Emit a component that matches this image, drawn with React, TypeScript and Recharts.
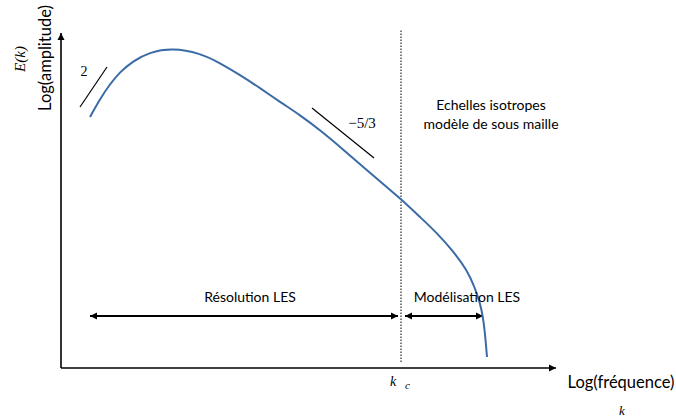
import React from "react";
import { LineChart, Line, XAxis, YAxis, ReferenceLine } from "recharts";

// Schematic energy spectrum E(k): log-frequency vs log-amplitude (arbitrary units)
const logFrequency = [29, 39, 49, 59, 72, 89, 111, 139, 159, 179, 199, 219, 239, 259, 284, 309, 339, 359, 376, 392, 406, 414, 419, 422, 424, 426];
const logAmplitude = [251, 269, 284, 296, 307, 316, 320, 315, 305, 293, 280, 266, 253, 238, 217, 195, 170, 151, 135, 117, 98, 80, 65, 51, 35, 11];

const xDomain = [0, 495];
const yDomain = [0, 335];

const cutoffK = 340; // k_c
const cutoffSpan = [6, 338];
const resolutionRange = [29, 337];
const modelRange = [344, 422];
const rangeLevel = 52;
const slope2Line = [{ x: 19, y: 261 }, { x: 46, y: 301 }];
const slope53Line = [{ x: 251, y: 260 }, { x: 313, y: 210 }];

const data = logFrequency.map((k, i) => ({ k, e: logAmplitude[i] }));

const SANS = "Lato, 'Liberation Sans', sans-serif";
const SERIF = "'Liberation Serif', 'DejaVu Serif', serif";

function head(x: number, y: number, fx: number, fy: number, key: string) {
  const dx = x - fx;
  const dy = y - fy;
  const len = Math.sqrt(dx * dx + dy * dy) || 1;
  const ux = dx / len;
  const uy = dy / len;
  const L = 7;
  const W = 3.5;
  const bx = x - ux * L;
  const by = y - uy * L;
  const pts = `${x},${y} ${bx - uy * W},${by + ux * W} ${bx + uy * W},${by - ux * W}`;
  return <polygon key={key} points={pts} fill="#000" />;
}

function makeArrow(startHead: boolean, endHead: boolean, width: number) {
  return (p: any) => {
    const { x1, y1, x2, y2 } = p;
    return (
      <g>
        <line x1={x1} y1={y1} x2={x2} y2={y2} stroke="#000" strokeWidth={width} />
        {startHead ? head(x1, y1, x2, y2, "s") : null}
        {endHead ? head(x2, y2, x1, y1, "e") : null}
      </g>
    );
  };
}

export default function App() {
  return (
    <div style={{ position: "absolute", left: 0, top: 0, width: 676, height: 419, background: "#fff" }}>
      <LineChart
        width={676}
        height={419}
        data={data}
        margin={{ top: 33, right: 120, bottom: 51, left: 61 }}
      >
        <XAxis dataKey="k" type="number" domain={xDomain} hide />
        <YAxis type="number" domain={yDomain} hide />
        <ReferenceLine
          segment={[{ x: xDomain[0], y: yDomain[0] }, { x: xDomain[0], y: yDomain[1] }]}
          shape={makeArrow(false, true, 1.6)}
          ifOverflow="visible"
        />
        <ReferenceLine
          segment={[{ x: xDomain[0], y: yDomain[0] }, { x: xDomain[1], y: yDomain[0] }]}
          shape={makeArrow(false, true, 1.6)}
          ifOverflow="visible"
        />
        <ReferenceLine
          segment={[{ x: cutoffK, y: cutoffSpan[0] }, { x: cutoffK, y: cutoffSpan[1] }]}
          stroke="#000"
          strokeWidth={1}
          strokeDasharray="1.5 1.5"
          ifOverflow="visible"
        />
        <ReferenceLine
          segment={[{ x: resolutionRange[0], y: rangeLevel }, { x: resolutionRange[1], y: rangeLevel }]}
          shape={makeArrow(true, true, 1.8)}
          ifOverflow="visible"
        />
        <ReferenceLine
          segment={[{ x: modelRange[0], y: rangeLevel }, { x: modelRange[1], y: rangeLevel }]}
          shape={makeArrow(true, true, 1.8)}
          ifOverflow="visible"
        />
        <ReferenceLine segment={slope2Line} stroke="#000" strokeWidth={1.2} ifOverflow="visible" />
        <ReferenceLine segment={slope53Line} stroke="#000" strokeWidth={1.2} ifOverflow="visible" />
        <Line
          type="basis"
          dataKey="e"
          stroke="#3b6ba5"
          strokeWidth={2}
          dot={false}
          isAnimationActive={false}
        />
      </LineChart>
      <svg
        width={676}
        height={419}
        style={{ position: "absolute", left: 0, top: 0, pointerEvents: "none" }}
      >
        <text x={84} y={76} fontFamily={SERIF} fontSize={14} textAnchor="middle" fill="#000">2</text>
        <text x={362} y={128} fontFamily={SERIF} fontSize={15} textAnchor="middle" fill="#000">−5/3</text>
        <text x={491} y={110} fontFamily={SANS} fontSize={14} textAnchor="middle" fill="#000">Echelles isotropes</text>
        <text x={491} y={129} fontFamily={SANS} fontSize={14} textAnchor="middle" fill="#000">modèle de sous maille</text>
        <text x={250} y={302} fontFamily={SANS} fontSize={14} textAnchor="middle" fill="#000">Résolution LES</text>
        <text x={467} y={302} fontFamily={SANS} fontSize={14} textAnchor="middle" fill="#000">Modélisation LES</text>
        <text x={51} y={58} fontFamily={SANS} fontSize={16.5} textAnchor="middle" fill="#000" transform="rotate(-90 51 58)">Log(amplitude)</text>
        <text x={25} y={59} fontFamily={SERIF} fontSize={15} fontStyle="italic" textAnchor="middle" fill="#000" transform="rotate(-90 25 59)">E(k)</text>
        <text x={390} y={386} fontFamily={SERIF} fontSize={14} fontStyle="italic" fill="#000">k</text>
        <text x={405} y={389} fontFamily={SERIF} fontSize={11} fontStyle="italic" fill="#000">c</text>
        <text x={621} y={388} fontFamily={SANS} fontSize={16.5} textAnchor="middle" fill="#000">Log(fréquence)</text>
        <text x={622} y={415} fontFamily={SERIF} fontSize={13} fontStyle="italic" textAnchor="middle" fill="#000">k</text>
      </svg>
    </div>
  );
}
